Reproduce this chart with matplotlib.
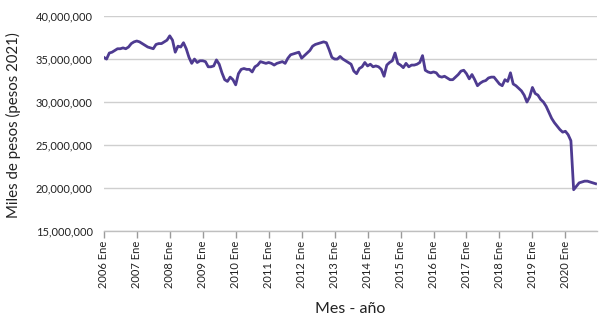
import matplotlib
matplotlib.use('Agg')
import matplotlib.pyplot as plt
from matplotlib.ticker import FuncFormatter
import numpy as np

plt.rcParams['font.family'] = ['Lato', 'DejaVu Sans']

# monthly values (millions of pesos), Jan 2006 - Dec 2020
v2006 = [35.2, 35.0, 35.7, 35.8, 36.0, 36.2, 36.2, 36.3, 36.2, 36.4, 36.8, 37.0]
v2007 = [37.1, 37.0, 36.8, 36.6, 36.4, 36.3, 36.2, 36.7, 36.8, 36.8, 37.0, 37.2]
v2008 = [37.7, 37.2, 35.8, 36.5, 36.4, 36.9, 36.2, 35.2, 34.5, 35.0, 34.6, 34.8]
v2009 = [34.8, 34.7, 34.1, 34.1, 34.2, 34.9, 34.4, 33.4, 32.6, 32.4, 32.9, 32.6]
v2010 = [32.0, 33.3, 33.8, 33.9, 33.8, 33.8, 33.5, 34.1, 34.3, 34.7, 34.6, 34.5]
v2011 = [34.6, 34.5, 34.3, 34.5, 34.6, 34.7, 34.5, 35.1, 35.5, 35.6, 35.7, 35.8]
v2012 = [35.1, 35.4, 35.7, 36.0, 36.5, 36.7, 36.8, 36.9, 37.0, 36.9, 36.1, 35.2]
v2013 = [35.0, 35.0, 35.3, 35.0, 34.8, 34.6, 34.4, 33.6, 33.3, 33.9, 34.1, 34.6]
v2014 = [34.2, 34.4, 34.1, 34.2, 34.1, 33.8, 33.0, 34.3, 34.6, 34.8, 35.7, 34.5]
v2015 = [34.3, 34.0, 34.5, 34.1, 34.3, 34.3, 34.4, 34.6, 35.4, 33.7, 33.5, 33.4]
v2016 = [33.5, 33.4, 33.0, 32.9, 33.0, 32.8, 32.6, 32.6, 32.9, 33.2, 33.6, 33.7]
v2017 = [33.3, 32.7, 33.2, 32.6, 31.9, 32.2, 32.4, 32.5, 32.8, 32.9, 32.9, 32.5]
v2018 = [32.1, 31.9, 32.6, 32.4, 33.4, 32.1, 31.9, 31.6, 31.3, 30.8, 30.0, 30.6]
v2019 = [31.7, 31.0, 30.8, 30.3, 30.0, 29.5, 28.8, 28.1, 27.6, 27.2, 26.8, 26.5]
v2020 = [26.6, 26.2, 25.5, 19.8, 20.2, 20.6, 20.7, 20.8, 20.8, 20.7, 20.6, 20.5]

years = list(range(2006, 2021))
tick_labels = [str(y) + ' Ene' for y in years]

values = np.array(v2006 + v2007 + v2008 + v2009 + v2010 + v2011 + v2012 + v2013
                  + v2014 + v2015 + v2016 + v2017 + v2018 + v2019 + v2020) * 1e6
months = np.arange(len(values))

fig = plt.figure(figsize=(6, 3.28), dpi=100)
ax = fig.add_axes([0.173, 0.2957, 0.822, 0.6553])

ax.plot(months, values, color='#4e3b91', linewidth=2.0, solid_joinstyle='round', zorder=3)

ax.set_ylim(15e6, 40e6)
ax.set_xlim(0, 179.5)
ax.set_yticks(np.arange(15e6, 40.1e6, 5e6))
ax.yaxis.set_major_formatter(FuncFormatter(lambda v, p: '{:,.0f}'.format(v)))
ax.set_xticks(np.arange(0, len(years) * 12, 12))
ax.set_xticklabels(tick_labels, rotation=90)

ax.grid(axis='y', color='#cfcfcf', linewidth=1.0, zorder=0)
for s in ['top', 'right', 'left']:
    ax.spines[s].set_visible(False)
ax.spines['bottom'].set_color('#bfbfbf')
ax.spines['bottom'].set_linewidth(1.0)
ax.tick_params(axis='y', length=0, labelsize=8, pad=8, colors='#222222')
ax.tick_params(axis='x', length=5, width=1.0, color='#9a9a9a', labelsize=8, pad=2,
               labelcolor='#222222')

ax.set_ylabel('Miles de pesos (pesos 2021)', fontsize=10.8, color='#222222')
ax.yaxis.set_label_coords(-0.168, 0.493)
ax.set_xlabel('Mes - año', fontsize=11.5, color='#222222')
ax.xaxis.set_label_coords(0.5, -0.33)

fig.savefig('out.png', dpi=100)
